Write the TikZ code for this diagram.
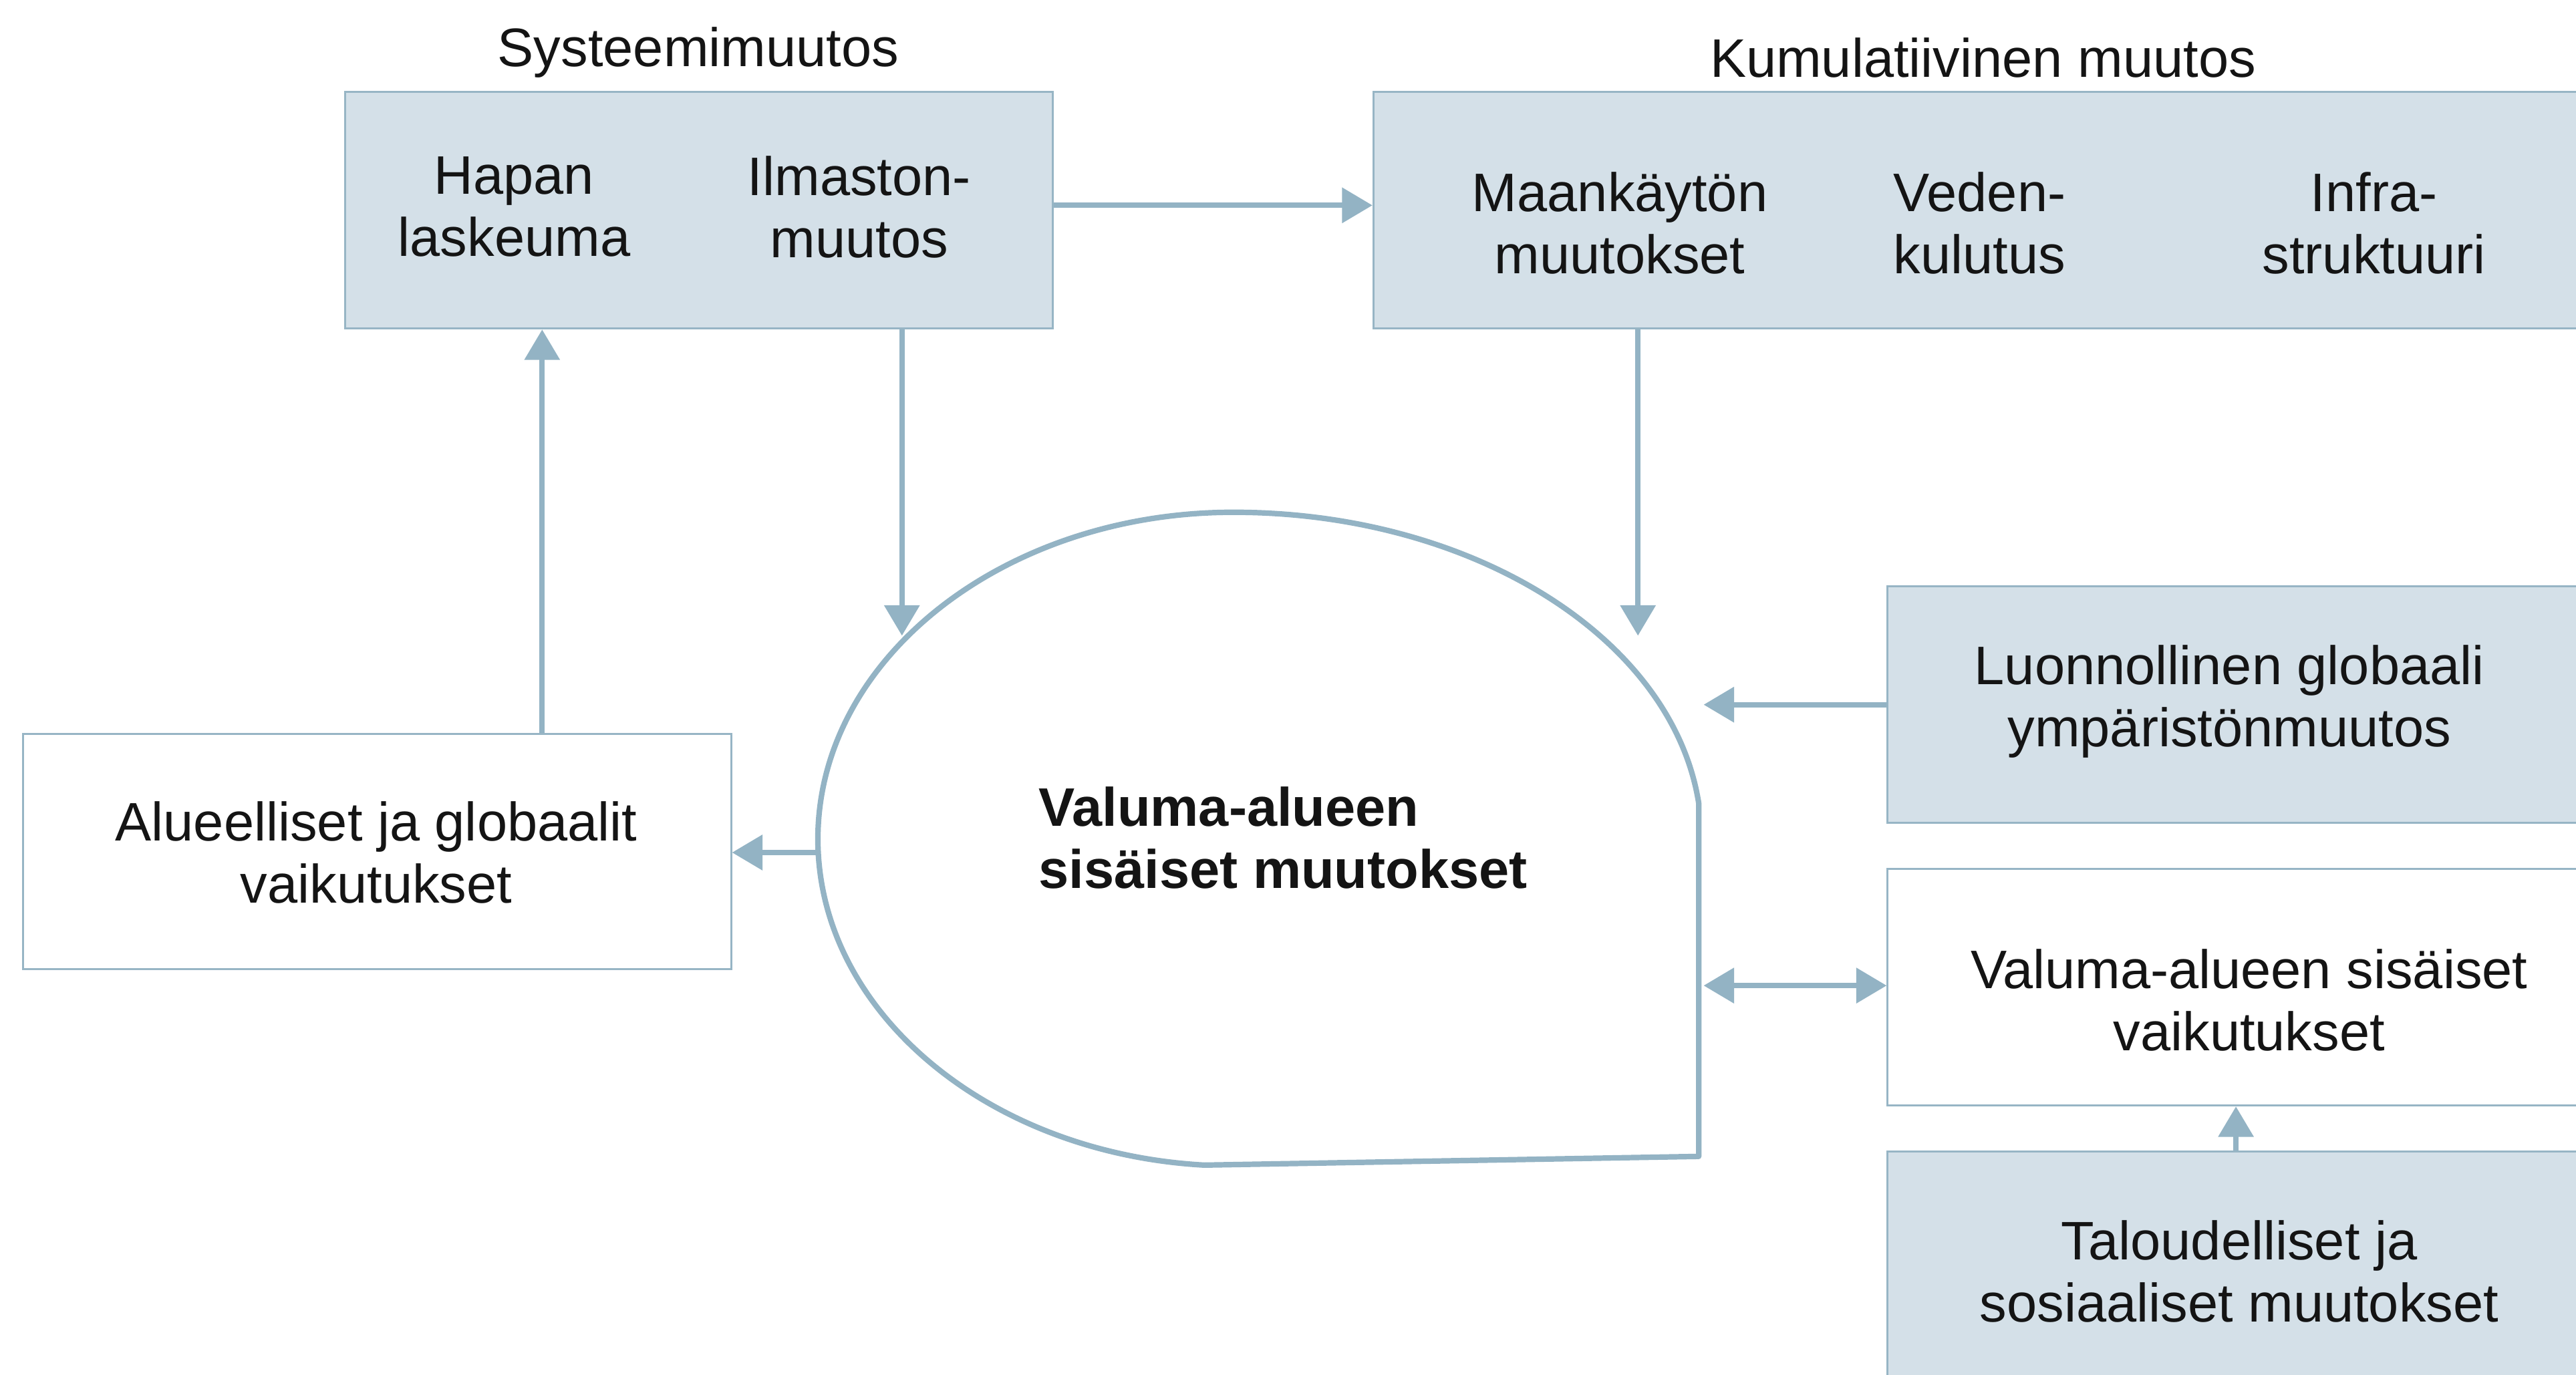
\documentclass[tikz,border=0pt]{standalone}
\usepackage{fontspec}
\setmainfont{Liberation Sans}
\usetikzlibrary{arrows.meta,fit}
\definecolor{boxfill}{HTML}{D4E0E8}
\definecolor{boxline}{HTML}{97B5C5}
\definecolor{arrowcol}{HTML}{93B3C4}
\begin{document}
\begin{tikzpicture}[x=0.02cm,y=-0.02cm,
  every node/.style={font=\fontsize{18.8}{21.5}\selectfont, text=black!92},
  box/.style={draw=boxline, line width=0.7pt, inner sep=0pt},
  filled/.style={box, fill=boxfill},
  plain/.style={box, fill=white},
  lbl/.style={align=center, inner sep=0pt},
  arr/.style={draw=arrowcol, line width=1.8pt,
    -{Triangle[length=0.37cm,width=0.42cm]}, shorten >=0pt},
  arr2/.style={draw=arrowcol, line width=1.8pt,
    {Triangle[length=0.37cm,width=0.42cm]}-{Triangle[length=0.37cm,width=0.42cm]}},
  blob/.style={draw=arrowcol, line width=1.9pt, line join=round}
]
\clip (0,0) rectangle (1568,837);
\fill[white] (0,0) rectangle (1568,837);

% boxes
\node[filled, fit={(210,56) (641,200)}] (sys) {};
\node[filled, fit={(836,56) (1590,200)}] (kum) {};
\node[plain, fit={(14,447) (445,590)}] (alu) {};
\node[filled, fit={(1149,357) (1590,501)}] (luo) {};
\node[plain, fit={(1149,529) (1590,673)}] (vai) {};
\node[filled, fit={(1149,701) (1590,850)}] (tal) {};

% group titles
\node[lbl] (tsys) at (425,32) {Systeemimuutos};
\node[lbl] (tkum) at (1207,35) {Kumulatiivinen muutos};

% box texts
\node[lbl] (hap) at (313,126) {Hapan\\laskeuma};
\node[lbl] (ilm) at (523,126) {Ilmaston-\\muutos};
\node[lbl] (maa) at (986,136) {Maankäytön\\muutokset};
\node[lbl] (ved) at (1205,136) {Veden-\\kulutus};
\node[lbl] (inf) at (1445,136) {Infra-\\struktuuri};
\node[lbl] (talu) at (229,519) {Alueelliset ja globaalit\\vaikutukset};
\node[lbl] (tluo) at (1357,427) {Luonnollinen globaali\\ympäristönmuutos};
\node[lbl] (tvai) at (1369,609) {Valuma-alueen sisäiset\\vaikutukset};
\node[lbl] (ttal) at (1363,774) {Taloudelliset ja\\sosiaaliset muutokset};

% central catchment shape: two half-ellipses, a straight right side and bottom
\draw[blob] (1034,489)
  arc[start angle=6.3, end angle=90, x radius=5.7cm, y radius=3.98cm]
  arc[start angle=90, end angle=266, x radius=5.06cm, y radius=3.98cm]
  -- (1034,704) -- cycle;
\node[lbl, anchor=west, align=left, font=\fontsize{18.8}{21.5}\selectfont\bfseries]
  (vsm) at (632,510) {Valuma-alueen\\sisäiset muutokset};

% points on the shape's outline
\coordinate (bIn1) at (549,387);
\coordinate (bIn2) at (997,387);
\coordinate (bOut) at (497,519);
\coordinate (bIn3) at (1037,429);
\coordinate (bIn4) at (1037,600);
\coordinate (xa) at (330,0);
\coordinate (xt) at (1361,0);

% connectors
\draw[arr] (sys.east |- 0,125) -- (kum.west |- 0,125);
\draw[arr] (sys.south -| bIn1) -- (bIn1);
\draw[arr] (kum.south -| bIn2) -- (bIn2);
\draw[arr] (alu.north -| xa) -- (sys.south -| xa);
\draw[arr] (bOut) -- (alu.east |- bOut);
\draw[arr] (luo.west |- bIn3) -- (bIn3);
\draw[arr2] (bIn4) -- (vai.west |- bIn4);
\draw[arr] (tal.north -| xt) -- (vai.south -| xt);
\end{tikzpicture}
\end{document}
